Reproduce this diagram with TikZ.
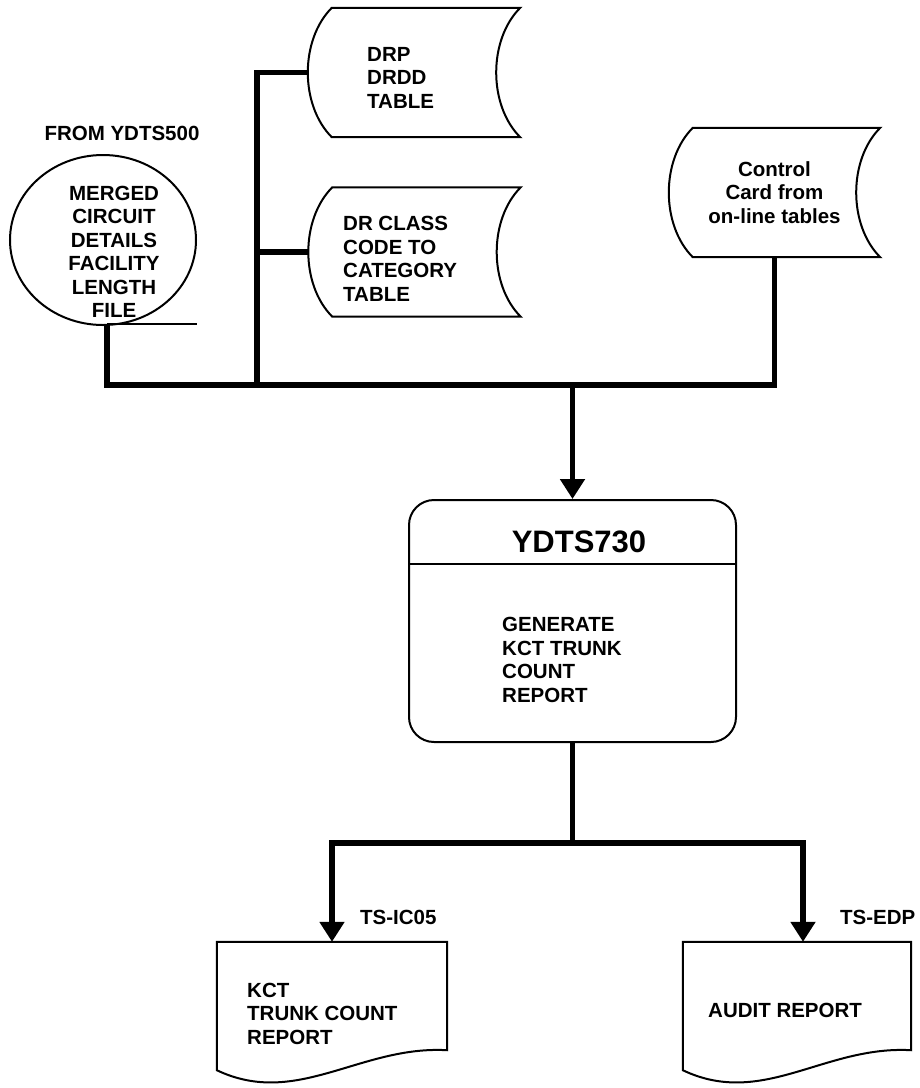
\documentclass[tikz,border=0pt]{standalone}
\usepackage{fontspec}
\setmainfont{Liberation Sans}
\usetikzlibrary{arrows.meta, shapes.geometric}

\tikzset{
  txt/.style={font=\bfseries\fontsize{20.5}{23.5}\selectfont, inner sep=0pt},
  box/.style={draw, line width=2pt},
  bus/.style={line width=5.5pt},
  feed/.style={line width=5.5pt, -{Triangle[width=24pt, length=20pt]}},
  store/.style={minimum width=212pt, minimum height=129pt, inner sep=0pt},
  report/.style={minimum height=128pt, inner sep=0pt},
}

\newcommand{\tapeoutline}[1]{%
  \draw[box] ([xshift=24pt]#1.north west) -- (#1.north east)
    .. controls +(-32,32) and +(-32,-32) .. (#1.south east)
    -- ([xshift=24pt]#1.south west)
    .. controls +(-32,-32) and +(-32,32) .. ([xshift=24pt]#1.north west) -- cycle;}

\newcommand{\docoutline}[1]{%
  \draw[box] (#1.south west) -- (#1.north west) -- (#1.north east)
    -- ([yshift=20pt]#1.south east)
    .. controls +(-87,-5) and +(80,38) .. (#1.south west) -- cycle;}

\begin{document}
\begin{tikzpicture}[x=1pt, y=-1pt]
  \useasboundingbox (0,0) rectangle (920,1088);

  \node (source) [txt] at (122,133) {FROM YDTS500};
  \node (merged) [box, ellipse, minimum width=186pt, minimum height=170pt] at (103,240) {};
  \node (mergedtext) [txt, align=center] at (114,252) {MERGED\\CIRCUIT\\DETAILS\\FACILITY\\LENGTH\\FILE};

  \begin{scope}[every node/.append style={txt}]
    \node (drp) [store] at (414,72.5) {};
    \node (drptext) [align=left, anchor=west] at (367,77.5) {DRP\\DRDD\\TABLE};
    \node (drclass) [store] at (414.5,252) {};
    \node (drclasstext) [align=left, anchor=west] at (343,259) {DR CLASS\\CODE TO\\CATEGORY\\TABLE};
    \node (ctrl) [store, minimum width=211pt, align=center] at (774.5,192.5) {Control\\Card from\\on-line tables};
  \end{scope}
  \tapeoutline{drp}
  \tapeoutline{drclass}
  \tapeoutline{ctrl}

  \node (proc) [box, rounded corners=25pt, minimum width=327pt, minimum height=242pt] at (572.5,621) {};
  \node (proctitle) [font=\bfseries\fontsize{31}{36}\selectfont, inner sep=0pt] at (579,542) {YDTS730};
  \coordinate (divider) at (572.5,564);
  \draw[box] (proc.west |- divider) -- (proc.east |- divider);
  \node (proctext) [txt, align=left, anchor=west] at (502,660) {GENERATE\\KCT TRUNK\\COUNT\\REPORT};

  \node (kct) [report, minimum width=230pt] at (332,1006) {};
  \node (kcttext) [txt, align=left, anchor=west] at (247,1013.5) {KCT\\TRUNK COUNT\\REPORT};
  \node (audit) [report, minimum width=228pt] at (797,1006) {};
  \node (audittext) [txt, anchor=west] at (708,1010) {AUDIT REPORT};
  \docoutline{kct}
  \docoutline{audit}
  \node (tsic) [txt, anchor=west] at (360,917) {TS-IC05};
  \node (tsedp) [txt, anchor=west] at (840,917) {TS-EDP};

  \coordinate (mergedfoot) at (107,324);
  \coordinate (tick) at (197,324);
  \coordinate (trunkfoot) at (257,385);
  \coordinate (split) at (572.5,843);

  \draw[box] (mergedfoot) -- (tick);
  \draw[bus] (mergedfoot) -- (mergedfoot |- trunkfoot) -| (ctrl.south);
  \draw[bus] (drp.west) -| (trunkfoot);
  \draw[bus] (drclass.west) -- (drclass.west -| trunkfoot);
  \draw[feed] (proc.north |- trunkfoot) -- (proc.north);
  \draw[bus] (proc.south) -- (split);
  \draw[feed] (split) -| (kct.north);
  \draw[feed] (split) -| ([xshift=6pt]audit.north);
\end{tikzpicture}
\end{document}
